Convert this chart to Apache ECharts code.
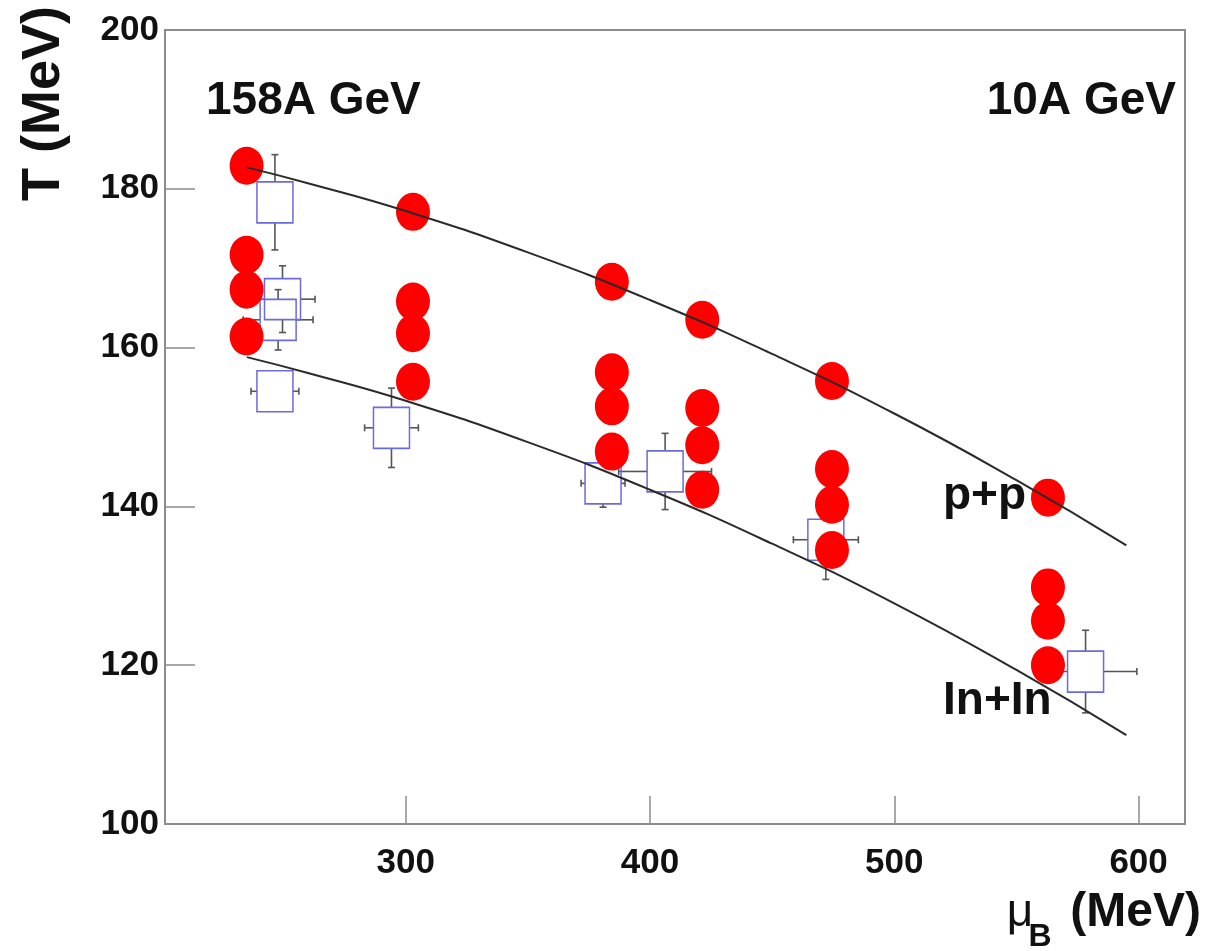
<!DOCTYPE html>
<html>
<head>
<meta charset="utf-8">
<script src="https://cdn.jsdelivr.net/npm/echarts@6/dist/echarts.min.js"></script>
<style>
  html, body { margin: 0; padding: 0; background: #fff; }
  #chart { width: 1210px; height: 951px; }
</style>
</head>
<body>
<div id="chart"></div>
<script>
// ---- data ----
const xTicks = [300, 400, 500, 600];
const yTicks = [100, 120, 140, 160, 180, 200];

// thermal-model fits (red filled circles): one column per system
const fitColumnsMu = [234.9, 303.0, 384.4, 421.4, 474.5, 562.9];
const fitColumnsT = [
  [182.9, 171.7, 167.3, 161.4],
  [177.1, 165.8, 161.8, 155.7],
  [168.3, 156.9, 152.6, 146.9],
  [163.5, 152.4, 147.7, 142.1],
  [155.8, 144.7, 140.2, 134.5],
  [141.1, 129.8, 125.6, 120.0]
];

// open blue squares with error bars
const dataMu    = [246.5, 249.6, 247.8, 246.5, 294.2, 380.8, 406.2, 472.0, 578.3];
const dataT     = [178.3, 166.1, 163.5, 154.5, 149.9, 142.9, 144.4, 135.8, 119.2];
const dataMuErr = [4.0, 13.3, 14.3, 9.8, 11.0, 9.0, 19.0, 13.3, 21.0];
const dataTErr  = [6.0, 4.2, 3.8, 2.0, 5.0, 3.0, 4.8, 5.0, 5.2];

// freeze-out curves
const curveMu  = [235, 260, 300, 350, 400, 450, 500, 550, 595];
const ppCurveT = [182.7, 180.7, 177.2, 172.0, 166.0, 159.2, 151.7, 143.3, 135.1];
const inCurveT = [158.8, 156.8, 153.3, 148.1, 142.1, 135.3, 127.8, 119.4, 111.2];

// ---- build series data ----
const circlePts = [];
fitColumnsMu.forEach((mu, i) => fitColumnsT[i].forEach(t => circlePts.push([mu, t])));
const squarePts = dataMu.map((mu, i) => [mu, dataT[i], dataMuErr[i], dataTErr[i]]);
const ppCurve = curveMu.map((mu, i) => [mu, ppCurveT[i]]);
const inCurve = curveMu.map((mu, i) => [mu, inCurveT[i]]);

const FONT = 'Liberation Sans, Arial, Helvetica, sans-serif';
const frameColor = '#8c8c8c';
const boxW = 36, boxH = 41;

const chart = echarts.init(document.getElementById('chart'), null, { renderer: 'canvas' });

chart.setOption({
  animation: false,
  backgroundColor: '#ffffff',
  grid: {
    left: 165, right: 25, top: 30, bottom: 127,
    show: true, borderColor: frameColor, borderWidth: 2, backgroundColor: '#ffffff'
  },
  xAxis: {
    type: 'value',
    min: 201.5, max: 619,
    axisLine: { show: true, lineStyle: { color: frameColor, width: 2 } },
    axisTick: { show: true, inside: true, length: 28, customValues: xTicks,
                lineStyle: { color: frameColor, width: 1.5 } },
    axisLabel: { customValues: xTicks, fontSize: 35, fontWeight: 'bold', fontFamily: FONT,
                 color: '#111', margin: 22 },
    splitLine: { show: false }
  },
  yAxis: {
    type: 'value',
    min: yTicks[0], max: yTicks[yTicks.length - 1], interval: 20,
    axisLine: { show: true, lineStyle: { color: frameColor, width: 2 } },
    axisTick: { show: true, inside: true, length: 30, lineStyle: { color: frameColor, width: 1.5 } },
    axisLabel: { fontSize: 35, fontWeight: 'bold', fontFamily: FONT, color: '#111', margin: 6 },
    splitLine: { show: false }
  },
  series: [
    {
      type: 'custom',
      z: 2,
      data: squarePts,
      clip: true,
      renderItem: function (params, api) {
        const x = api.value(0), y = api.value(1), dx = api.value(2), dy = api.value(3);
        const c = api.coord([x, y]);
        const l = api.coord([x - dx, y]);
        const r = api.coord([x + dx, y]);
        const t = api.coord([x, y + dy]);
        const b = api.coord([x, y - dy]);
        const hw = boxW / 2, hh = boxH / 2, cap = 3.5;
        const st = { stroke: '#555', lineWidth: 1.6 };
        const ch = [];
        const seg = (x1, y1, x2, y2) => ch.push({ type: 'line', shape: { x1, y1, x2, y2 }, style: st });
        if (r[0] > c[0] + hw) { seg(c[0] + hw, c[1], r[0], c[1]); seg(r[0], c[1] - cap, r[0], c[1] + cap); }
        if (l[0] < c[0] - hw) { seg(c[0] - hw, c[1], l[0], c[1]); seg(l[0], c[1] - cap, l[0], c[1] + cap); }
        if (t[1] < c[1] - hh) { seg(c[0], c[1] - hh, c[0], t[1]); seg(c[0] - cap, t[1], c[0] + cap, t[1]); }
        if (b[1] > c[1] + hh) { seg(c[0], c[1] + hh, c[0], b[1]); seg(c[0] - cap, b[1], c[0] + cap, b[1]); }
        return { type: 'group', children: ch };
      }
    },
    {
      type: 'scatter',
      z: 3,
      data: squarePts.map(p => [p[0], p[1]]),
      symbol: 'rect',
      symbolSize: [boxW, boxH],
      itemStyle: { color: 'rgba(255,255,255,0)', borderColor: '#6b6bdc', borderWidth: 1.6, opacity: 1 }
    },
    {
      type: 'scatter',
      z: 4,
      data: circlePts,
      symbol: 'path://M0,1 A1,1 0 1,1 2,1 A1,1 0 1,1 0,1 Z',
      symbolSize: [34, 38],
      itemStyle: { color: '#ff0000', opacity: 1 }
    },
    {
      type: 'line',
      z: 5,
      data: ppCurve,
      smooth: true,
      symbol: 'none',
      lineStyle: { color: '#2a2a2a', width: 2 }
    },
    {
      type: 'line',
      z: 5,
      data: inCurve,
      smooth: true,
      symbol: 'none',
      lineStyle: { color: '#2a2a2a', width: 2 }
    }
  ],
  graphic: [
    { type: 'text', x: 206, y: 101, z: 10,
      style: { text: '158A GeV', font: 'bold 46px ' + FONT, fill: '#111', align: 'left', verticalAlign: 'middle' } },
    { type: 'text', x: 1176, y: 101, z: 10,
      style: { text: '10A GeV', font: 'bold 46px ' + FONT, fill: '#111', align: 'right', verticalAlign: 'middle' } },
    { type: 'text', x: 943, y: 496, z: 10,
      style: { text: 'p+p', font: 'bold 46px ' + FONT, fill: '#111', align: 'left', verticalAlign: 'middle' } },
    { type: 'text', x: 943, y: 701, z: 10,
      style: { text: 'In+In', font: 'bold 46px ' + FONT, fill: '#111', align: 'left', verticalAlign: 'middle' } },
    { type: 'text', x: 44, y: 201, rotation: Math.PI / 2, z: 10,
      style: { text: 'T (MeV)', font: 'bold 54px ' + FONT, fill: '#111', align: 'left', verticalAlign: 'middle' } },
    { type: 'text', x: 1201, y: 913, z: 10,
      style: { text: '(MeV)', font: 'bold 48px ' + FONT, fill: '#111', align: 'right', verticalAlign: 'middle' } },
    { type: 'text', x: 1040, y: 937, z: 10,
      style: { text: 'B', font: 'bold 32px ' + FONT, fill: '#111', align: 'center', verticalAlign: 'middle' } },
    { type: 'text', x: 1020, y: 913, z: 10,
      style: { text: 'μ', font: '46px ' + FONT, fill: '#111', align: 'center', verticalAlign: 'middle' } }
  ]
});
</script>
</body>
</html>
